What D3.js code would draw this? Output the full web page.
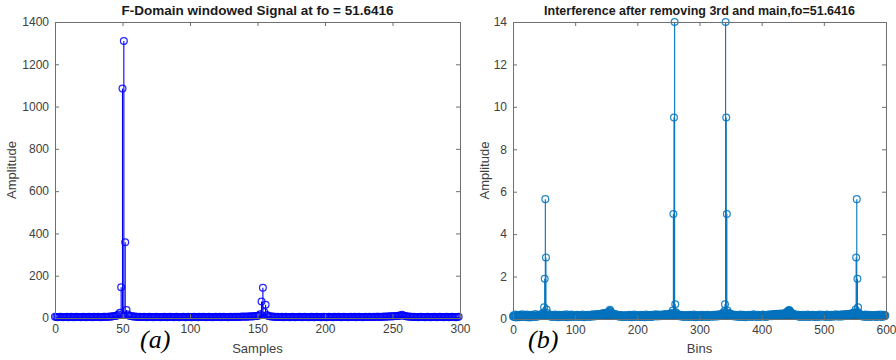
<!DOCTYPE html>
<html>
<head>
<meta charset="utf-8">
<script src="https://cdn.jsdelivr.net/npm/d3@7"></script>
<style>
  body { margin: 0; background: #fff; }
  svg { font-family: "Liberation Sans", Arial, sans-serif; }
</style>
</head>
<body>
<div id="chart"></div>
<script>
// left panel: F-domain windowed signal, samples 0..299
const samplesAmp = [
  6,5,4,5,6,5,4,5,5,6,4,5,6,5,4,5,6,5,5,4,
  5,6,5,4,5,6,5,5,4,6,5,5,6,5,4,5,6,6,5,6,
  6,7,7,8,9,10,12,16,25,145,1085,1310,358,38,16,11,9,8,7,7,
  6,6,5,6,5,5,6,5,4,5,6,5,5,4,5,6,5,5,4,5,
  5,6,5,4,5,6,5,5,4,5,6,5,4,5,5,6,5,4,5,6,
  5,4,5,6,5,5,4,6,5,5,6,5,4,5,6,5,5,4,5,6,
  5,5,6,4,5,6,5,5,4,5,6,5,5,6,5,6,5,6,6,7,
  6,7,6,7,7,8,7,8,9,9,10,12,18,78,143,28,63,14,9,8,
  7,7,6,6,5,6,5,5,6,4,5,6,5,5,4,5,6,5,4,5,
  5,6,5,4,5,6,5,5,4,5,6,5,4,5,6,5,5,4,5,6,
  5,4,5,6,5,5,4,6,5,5,6,5,4,5,6,5,5,4,5,6,
  5,5,6,4,5,6,5,5,4,5,6,5,5,6,5,5,6,5,6,6,
  6,5,6,6,7,6,7,7,8,7,8,8,9,9,10,10,12,15,12,9,
  8,7,7,6,6,5,6,5,5,4,5,6,5,5,4,5,6,5,4,5,
  5,6,5,4,5,6,5,5,4,5,6,5,4,5,6,5,5,4,5,6
];

// right panel: interference after removing 3rd and main, bins 0..599
const binsAmp = [
  .12,.18,.09,.15,.21,.07,.14,.19,.11,.16,.08,.2,.13,.1,.17,.22,.09,.15,.12,.18,
  .1,.16,.21,.08,.14,.19,.12,.07,.17,.13,.2,.09,.15,.11,.18,.14,.23,.1,.16,.12,
  .15,.19,.13,.2,.17,.22,.18,.24,.25,.3,.55,1.9,5.65,2.9,.45,.28,.21,.16,.19,.13,
  .17,.11,.2,.14,.09,.18,.13,.16,.21,.1,.15,.12,.19,.08,.14,.2,.11,.17,.13,.09,
  .16,.2,.12,.18,.1,.15,.22,.13,.08,.17,.14,.19,.11,.16,.21,.09,.14,.18,.12,.15,
  .11,.17,.13,.2,.09,.15,.19,.12,.16,.1,.18,.14,.21,.11,.15,.08,.17,.13,.19,.12,
  .14,.2,.1,.16,.13,.19,.11,.17,.22,.14,.18,.12,.2,.15,.23,.17,.21,.16,.24,.19,
  .22,.18,.25,.2,.27,.23,.26,.21,.28,.24,.29,.26,.3,.27,.33,.38,.44,.36,.28,.25,
  .27,.22,.24,.19,.23,.18,.21,.15,.2,.13,.17,.11,.16,.19,.12,.15,.1,.18,.13,.16,
  .09,.15,.12,.19,.14,.1,.17,.13,.2,.11,.16,.08,.14,.18,.12,.21,.1,.15,.13,.17,
  .11,.19,.14,.09,.16,.12,.2,.15,.1,.18,.13,.17,.08,.15,.21,.12,.16,.1,.19,.14,
  .12,.17,.1,.2,.15,.11,.18,.13,.16,.22,.14,.19,.12,.17,.21,.15,.18,.13,.2,.16,
  .19,.14,.22,.17,.2,.15,.23,.18,.21,.16,.24,.19,.22,.26,.2,.25,.28,.4,4.95,9.5,
  14,.7,.32,.26,.22,.18,.21,.15,.19,.12,.17,.2,.13,.16,.1,.18,.14,.11,.19,.15,
  .12,.17,.09,.15,.2,.11,.16,.13,.18,.1,.14,.21,.12,.16,.08,.15,.19,.11,.17,.13,
  .16,.1,.18,.13,.2,.09,.15,.12,.19,.14,.11,.17,.13,.2,.1,.16,.12,.18,.15,.11,
  .17,.13,.2,.15,.11,.18,.14,.21,.16,.12,.19,.15,.22,.17,.2,.24,.18,.23,.27,.3,
  .38,.7,14,9.5,4.95,.4,.29,.24,.2,.26,.19,.23,.17,.21,.14,.18,.12,.16,.2,.13,
  .17,.11,.19,.14,.09,.16,.21,.12,.18,.1,.15,.2,.13,.17,.08,.14,.19,.11,.16,.13,
  .2,.12,.17,.1,.15,.19,.13,.22,.11,.16,.14,.18,.09,.15,.2,.12,.17,.14,.1,.18,
  .13,.16,.21,.11,.17,.14,.19,.1,.15,.2,.12,.18,.14,.22,.16,.19,.13,.21,.17,.23,
  .18,.22,.16,.24,.2,.25,.19,.23,.17,.21,.26,.2,.24,.19,.25,.22,.27,.23,.26,.28,
  .3,.33,.36,.39,.42,.4,.35,.3,.27,.24,.26,.21,.23,.18,.21,.15,.19,.13,.17,.2,
  .12,.16,.1,.19,.14,.17,.11,.2,.13,.16,.09,.15,.18,.12,.21,.14,.1,.17,.13,.19,
  .11,.15,.2,.13,.17,.09,.16,.12,.19,.14,.1,.18,.13,.21,.15,.11,.17,.14,.2,.12,
  .16,.13,.19,.1,.15,.21,.12,.17,.14,.09,.18,.13,.2,.16,.11,.19,.14,.17,.12,.22,
  .15,.18,.13,.2,.16,.11,.19,.14,.22,.17,.12,.2,.15,.18,.23,.16,.21,.19,.24,.2,
  .23,.18,.25,.21,.26,.22,.27,.24,.28,.3,.32,.45,2.9,5.65,1.9,.55,.3,.25,.21,.18,
  .2,.14,.17,.11,.19,.13,.16,.21,.1,.15,.18,.12,.2,.14,.09,.17,.13,.19,.11,.16,
  .14,.19,.12,.17,.1,.15,.2,.13,.18,.11,.16,.21,.12,.15,.09,.18,.14,.2,.13,.17
];

const samplesTicks = [0, 50, 100, 150, 200, 250, 300];
const samplesAmpTicks = [0, 200, 400, 600, 800, 1000, 1200, 1400];
const binsTicks = [0, 100, 200, 300, 400, 500, 600];
const binsAmpTicks = [0, 2, 4, 6, 8, 10, 12, 14];

const W = 896, H = 360;
const axisColor = '#707070';
const textColor = '#404040';

const svg = d3.select('#chart').append('svg')
  .attr('width', W)
  .attr('height', H);

function drawPanel(p) {
  const x = d3.scaleLinear().domain(p.xDomain).range([p.left, p.right]);
  const y = d3.scaleLinear().domain(p.yDomain).range([p.bottom, p.top]);
  const g = svg.append('g');

  // stems
  g.append('g').selectAll('line')
    .data(p.values)
    .enter().append('line')
    .attr('x1', (d, i) => x(i))
    .attr('x2', (d, i) => x(i))
    .attr('y1', y(0))
    .attr('y2', d => y(d))
    .attr('stroke', p.color)
    .attr('stroke-width', 1.1);

  // baseline
  g.append('line')
    .attr('x1', x(0)).attr('x2', x(p.values.length - 1))
    .attr('y1', y(0)).attr('y2', y(0))
    .attr('stroke', p.baseColor)
    .attr('stroke-width', 1.2);

  // hollow markers
  g.append('g').selectAll('circle')
    .data(p.values)
    .enter().append('circle')
    .attr('cx', (d, i) => x(i))
    .attr('cy', d => y(d))
    .attr('r', 3.4)
    .attr('fill', 'none')
    .attr('stroke', p.color)
    .attr('stroke-opacity', 0.85)
    .attr('stroke-width', 1.25);

  // box axes, ticks pointing inward
  const axes = [
    [d3.axisBottom(x).tickValues(p.xTicks), 0, p.bottom, true],
    [d3.axisTop(x).tickValues(p.xTicks), 0, p.top, false],
    [d3.axisLeft(y).tickValues(p.yTicks), p.left, 0, true],
    [d3.axisRight(y).tickValues(p.yTicks), p.right, 0, false]
  ];
  axes.forEach(([ax, tx, ty, labels]) => {
    ax.tickSizeInner(-4).tickSizeOuter(0).tickPadding(labels ? 6 : 0)
      .tickFormat(labels ? d3.format('d') : () => '');
    const a = g.append('g')
      .attr('transform', `translate(${tx},${ty})`)
      .call(ax);
    a.select('.domain').attr('stroke', axisColor);
    a.selectAll('.tick line').attr('stroke', axisColor);
    a.selectAll('.tick text')
      .attr('fill', textColor)
      .style('font-size', '12px')
      .style('font-family', '"Liberation Sans", Arial, sans-serif');
  });

  const cx = (p.left + p.right) / 2;

  g.append('text')
    .attr('x', cx).attr('y', 15)
    .attr('text-anchor', 'middle')
    .style('font-weight', 'bold')
    .style('font-size', p.titleSize)
    .attr('fill', '#1a1a1a')
    .text(p.title);

  g.append('text')
    .attr('x', cx).attr('y', 353)
    .attr('text-anchor', 'middle')
    .style('font-size', '13px')
    .attr('fill', textColor)
    .text(p.xLabel);

  g.append('text')
    .attr('transform', `translate(${p.yLabelX},${(p.top + p.bottom) / 2}) rotate(-90)`)
    .attr('text-anchor', 'middle')
    .style('font-size', '13px')
    .attr('fill', textColor)
    .text('Amplitude');

  g.append('text')
    .attr('x', p.tagX).attr('y', 348)
    .style('font-family', '"Liberation Serif", "Times New Roman", serif')
    .style('font-style', 'italic')
    .style('font-size', '26px')
    .attr('fill', '#000')
    .text(p.tag);
}

drawPanel({
  values: samplesAmp,
  xDomain: [0, 300], yDomain: [0, 1400],
  xTicks: samplesTicks, yTicks: samplesAmpTicks,
  left: 55, right: 460, top: 22, bottom: 318,
  color: '#0000ff', baseColor: '#20208a',
  title: 'F-Domain windowed Signal at fo = 51.6416', titleSize: '13.5px',
  xLabel: 'Samples', yLabelX: 16, tagX: 140, tag: '(a)'
});

drawPanel({
  values: binsAmp,
  xDomain: [0, 600], yDomain: [0, 14],
  xTicks: binsTicks, yTicks: binsAmpTicks,
  left: 513, right: 886, top: 22, bottom: 319,
  color: '#0072bd', baseColor: '#1d4d78',
  title: 'Interference after removing 3rd and main,fo=51.6416', titleSize: '12.5px',
  xLabel: 'Bins', yLabelX: 489, tagX: 528, tag: '(b)'
});
</script>
</body>
</html>
